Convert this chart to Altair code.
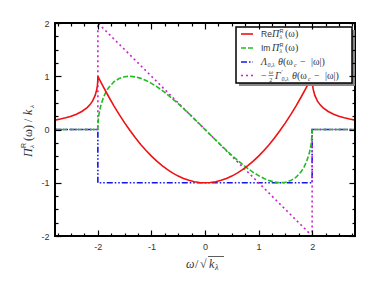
import altair as alt
import pandas as pd

# ---- data ----
re_omega = [-2.8, -2.7, -2.6, -2.5, -2.4, -2.3, -2.2, -2.15, -2.1, -2.05, -2.02, -2.01, -2.005, -2.002, -2.0,
            -1.9, -1.8, -1.7, -1.6, -1.5, -1.4, -1.3, -1.2, -1.1, -1.0, -0.9, -0.8, -0.7, -0.6, -0.5, -0.4,
            -0.3, -0.2, -0.1, 0.0, 0.1, 0.2, 0.3, 0.4, 0.5, 0.6, 0.7, 0.8, 0.9, 1.0, 1.1, 1.2, 1.3, 1.4, 1.5,
            1.6, 1.7, 1.8, 1.9, 2.0, 2.002, 2.005, 2.01, 2.02, 2.05, 2.1, 2.15, 2.2, 2.3, 2.4, 2.5, 2.6, 2.7, 2.8]
re_value = [0.176, 0.196, 0.220, 0.250, 0.288, 0.339, 0.412, 0.463, 0.533, 0.640, 0.754, 0.819, 0.868, 0.914, 1.0,
            0.805, 0.62, 0.445, 0.28, 0.125, -0.02, -0.155, -0.28, -0.395, -0.5, -0.595, -0.68, -0.755, -0.82,
            -0.875, -0.92, -0.955, -0.98, -0.995, -1.0, -0.995, -0.98, -0.955, -0.92, -0.875, -0.82, -0.755,
            -0.68, -0.595, -0.5, -0.395, -0.28, -0.155, -0.02, 0.125, 0.28, 0.445, 0.62, 0.805, 1.0,
            0.914, 0.868, 0.819, 0.754, 0.640, 0.533, 0.463, 0.412, 0.339, 0.288, 0.250, 0.220, 0.196, 0.176]

im_omega = [-2.8, -2.0, -1.998, -1.99, -1.98, -1.95, -1.9, -1.85, -1.8, -1.7, -1.6, -1.5, -1.4, -1.3, -1.2,
            -1.1, -1.0, -0.9, -0.8, -0.7, -0.6, -0.5, -0.4, -0.3, -0.2, -0.1, 0.0, 0.1, 0.2, 0.3, 0.4, 0.5,
            0.6, 0.7, 0.8, 0.9, 1.0, 1.1, 1.2, 1.3, 1.4, 1.5, 1.6, 1.7, 1.8, 1.85, 1.9, 1.95, 1.98, 1.99,
            1.998, 2.0, 2.8]
im_value = [0.0, 0.0, 0.089, 0.199, 0.279, 0.433, 0.593, 0.703, 0.785, 0.896, 0.96, 0.992, 1.0, 0.988, 0.96,
            0.919, 0.866, 0.804, 0.733, 0.656, 0.572, 0.484, 0.392, 0.297, 0.199, 0.1, 0.0, -0.1, -0.199,
            -0.297, -0.392, -0.484, -0.572, -0.656, -0.733, -0.804, -0.866, -0.919, -0.96, -0.988, -1.0,
            -0.992, -0.96, -0.896, -0.785, -0.703, -0.593, -0.433, -0.279, -0.199, -0.089, 0.0, 0.0]

lam_omega = [-2.8, -2.0, -2.0, 2.0, 2.0, 2.8]
lam_value = [0.0, 0.0, -1.0, -1.0, 0.0, 0.0]

gam_omega = [-2.8, -2.0, -2.0, 2.0, 2.0, 2.8]
gam_value = [0.0, 0.0, 2.0, -2.0, 0.0, 0.0]

x_labels = [-2, -1, 0, 1, 2]
y_labels = [-2, -1, 0, 1, 2]
x_minor = [-2.75, -2.5, -2.25, -1.75, -1.5, -1.25, -0.75, -0.5, -0.25, 0.25, 0.5, 0.75,
           1.25, 1.5, 1.75, 2.25, 2.5, 2.75]
y_minor = [-1.75, -1.5, -1.25, -0.75, -0.5, -0.25, 0.25, 0.5, 0.75, 1.25, 1.5, 1.75]

W, H = 300, 213
RED, GREEN, BLUE, MAG = "#ee1111", "#22bb22", "#1515ee", "#cc22cc"
SERIF = "Liberation Serif"
SANS = "Liberation Sans"
TXT = "#333333"

xs = alt.Scale(domain=[-2.8, 2.8], nice=False, zero=False)
ys = alt.Scale(domain=[-2, 2], nice=False, zero=False)


def frame_axis(orient, values, length, labels=False):
    kw = dict(orient=orient, values=values, offset=-length, tickSize=length, tickColor="black",
              tickWidth=1.2, domain=False, grid=False, title=None, labels=labels, zindex=1)
    if labels:
        kw.update(labelExpr="'' + datum.value", labelFont=SANS, labelFontSize=9,
                  labelColor=TXT, labelPadding=6)
    return alt.Axis(**kw)


def series(om, val, color, dash, xaxis, yaxis, width=1.6):
    df = pd.DataFrame({"omega": om, "value": val, "i": list(range(len(om)))})
    kw = dict(color=color, strokeWidth=width, clip=True)
    if dash:
        kw["strokeDash"] = dash
    return alt.Chart(df).mark_line(**kw).encode(
        x=alt.X("omega:Q", scale=xs, axis=xaxis),
        y=alt.Y("value:Q", scale=ys, axis=yaxis),
        order="i:O",
    )


one = pd.DataFrame({"k": [0]})


def txt(s, x, y, size=9, font=SERIF, style="italic", angle=0, color=TXT):
    kw = dict(text=s, font=font, fontSize=size, fontStyle=style, align="left", baseline="middle",
              color=color)
    if angle:
        kw["angle"] = angle
    return alt.Chart(one).mark_text(**kw).encode(x=alt.value(x), y=alt.value(y))


def hrule(x1, x2, y, color, dash=None, width=1.6):
    kw = dict(color=color, strokeWidth=width)
    if dash:
        kw["strokeDash"] = dash
    return alt.Chart(one).mark_rule(**kw).encode(x=alt.value(x1), x2=alt.value(x2), y=alt.value(y))


layers = []
layers.append(series(lam_omega, lam_value, BLUE, [6, 2, 1.5, 2, 1.5, 2],
                     frame_axis("bottom", x_minor, 3), frame_axis("left", y_minor, 3)))
layers.append(series(gam_omega, gam_value, MAG, [2, 3],
                     frame_axis("top", x_minor, 3), frame_axis("right", y_minor, 3)))
layers.append(series(im_omega, im_value, GREEN, [5, 2],
                     frame_axis("top", x_labels, 6), frame_axis("right", y_labels, 6)))
layers.append(series(re_omega, re_value, RED, None,
                     frame_axis("bottom", x_labels, 6, True), frame_axis("left", y_labels, 6, True)))

# plot frame
layers.append(alt.Chart(one).mark_rect(fillOpacity=0, stroke="black", strokeWidth=2).encode(
    x=alt.value(0), x2=alt.value(W), y=alt.value(0), y2=alt.value(H)))

# legend box
bx1, bx2, by1, by2 = 181, 297, 4, 60
layers.append(alt.Chart(one).mark_rect(fill="#888888").encode(
    x=alt.value(bx1 + 3), x2=alt.value(bx2 + 3), y=alt.value(by1 + 3), y2=alt.value(by2 + 3)))
layers.append(alt.Chart(one).mark_rect(fill="white", stroke="black", strokeWidth=1.5).encode(
    x=alt.value(bx1), x2=alt.value(bx2), y=alt.value(by1), y2=alt.value(by2)))

rows = [11, 25, 39, 52.5]
layers.append(hrule(186, 198, rows[0], RED))
layers.append(hrule(186, 198, rows[1], GREEN, [5, 2]))
layers.append(hrule(186, 198, rows[2], BLUE, [6, 2, 1.5, 2]))
layers.append(hrule(186, 198, rows[3], MAG, [2, 3]))

tx = 206
# row 1
r = rows[0]
layers += [txt("Re", tx, r, 8.5, SANS, "normal"), txt("Π", tx + 11, r, 10),
           txt("R", tx + 18.5, r - 3.5, 5.5, SANS, "normal"), txt("λ", tx + 18.5, r + 3, 6),
           txt("(ω)", tx + 24, r, 10, SERIF, "normal")]
r = rows[1]
layers += [txt("Im", tx, r, 8.5, SANS, "normal"), txt("Π", tx + 11, r, 10),
           txt("R", tx + 18.5, r - 3.5, 5.5, SANS, "normal"), txt("λ", tx + 18.5, r + 3, 6),
           txt("(ω)", tx + 24, r, 10, SERIF, "normal")]
r = rows[2]
layers += [txt("Λ", tx, r, 10), txt("0,λ", tx + 6.5, r + 3, 6),
           txt("θ", tx + 17, r, 10), txt("(ω", tx + 22, r, 10, SERIF, "normal"),
           txt("c", tx + 33, r + 3, 6), txt("−", tx + 39, r, 10, SERIF, "normal"),
           txt("|ω|)", tx + 50, r, 10, SERIF, "normal")]
r = rows[3]
layers += [txt("−", tx, r, 10, SERIF, "normal"), txt("ω", tx + 8, r - 4, 6), txt("2", tx + 8.3, r + 4, 6, SERIF, "normal"),
           hrule(tx + 7.5, tx + 12.5, r, TXT, None, 0.6),
           txt("Γ", tx + 14, r, 10), txt("′", tx + 20.5, r - 4, 6, SERIF, "normal"), txt("0,λ", tx + 20.5, r + 3, 6),
           txt("θ", tx + 31, r, 10), txt("(ω", tx + 36, r, 10, SERIF, "normal"),
           txt("c", tx + 47, r + 3, 6), txt("−", tx + 53, r, 10, SERIF, "normal"),
           txt("|ω|)", tx + 64, r, 10, SERIF, "normal")]

# y title (rotated)
yx = -27
layers += [txt("Π", yx, 134, 12, angle=270),
           txt("R", yx - 4, 125, 7, SANS, "normal", angle=270),
           txt("λ", yx + 4, 125, 7, angle=270),
           txt("(ω)", yx, 118, 12, SERIF, "normal", angle=270),
           txt("/", yx, 99, 12, SERIF, "normal", angle=270),
           txt("k", yx, 92, 12, angle=270),
           txt("λ", yx + 4, 85, 7, angle=270)]

# x title
xt, xy = 131, 241
layers += [txt("ω", xt, xy, 12), txt("/", xt + 9, xy, 12, SERIF, "normal"),
           txt("√", xt + 14, xy, 12, SERIF, "normal"),
           hrule(xt + 22, xt + 38, xy - 7.5, TXT, None, 0.8),
           txt("k", xt + 23, xy, 12), txt("λ", xt + 29, xy + 3.5, 8)]

chart = alt.layer(*layers).resolve_axis(x="independent", y="independent").properties(
    width=W, height=H,
    autosize=alt.AutoSizeParams(type="none"),
    padding={"left": 47, "top": 15, "right": 11, "bottom": 40},
).configure_view(strokeWidth=0)

chart.save("out.html", embed_options={"renderer": "svg", "actions": False})
